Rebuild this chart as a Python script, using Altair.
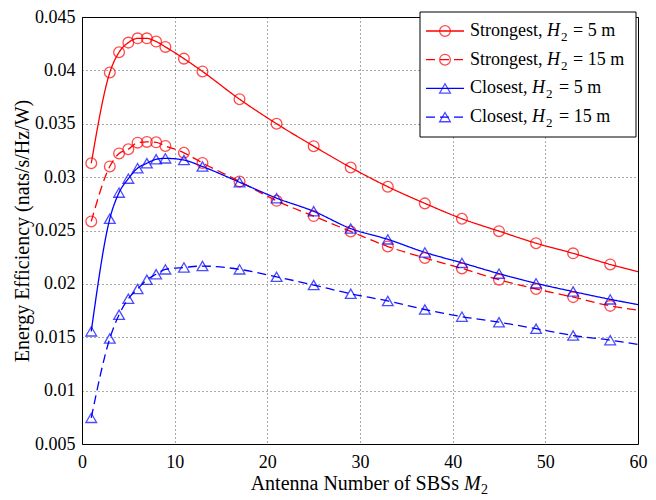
import altair as alt
import pandas as pd

# ---- data ----
M2 = [1, 3, 4, 5, 6, 7, 8, 9, 11, 13, 17, 21, 25, 29, 33, 37, 41, 45, 49, 53, 57, 60]
HAS_MARKER = [True] * 21 + [False]

strongest_5 = [0.0313, 0.0398, 0.0417, 0.0426, 0.0430, 0.0430, 0.0427, 0.0422, 0.0411, 0.0399,
               0.0373, 0.0350, 0.0329, 0.0309, 0.0291, 0.02754, 0.0261, 0.02494, 0.02381,
               0.02286, 0.02182, 0.02115]
strongest_15 = [0.02585, 0.0310, 0.03222, 0.03261, 0.03323, 0.0333, 0.03326, 0.03292, 0.03228,
                0.03133, 0.0296, 0.02778, 0.02635, 0.02491, 0.0235, 0.02243, 0.02145, 0.02039,
                0.01952, 0.01876, 0.01794, 0.01754]
closest_5 = [0.01555, 0.0261, 0.02855, 0.02986, 0.03084, 0.0313, 0.03167, 0.03176, 0.0316,
             0.03099, 0.02952, 0.02803, 0.0268, 0.02518, 0.02417, 0.02295, 0.02197, 0.02096,
             0.02005, 0.01928, 0.01855, 0.01806]
closest_15 = [0.00745, 0.01488, 0.01711, 0.01861, 0.01952, 0.02039, 0.0209, 0.02136, 0.02154,
              0.02167, 0.02136, 0.02066, 0.01989, 0.01907, 0.0184, 0.0176, 0.01693, 0.01641,
              0.0158, 0.01516, 0.01473, 0.01433]

SERIES = ["Strongest, H2 = 5 m", "Strongest, H2 = 15 m", "Closest, H2 = 5 m", "Closest, H2 = 15 m"]
SCHEME = ["Strongest", "Strongest", "Closest", "Closest"]
HEIGHTS = ["= 5 m", "= 15 m", "= 5 m", "= 15 m"]
COLORS = ["#ff0000", "#ff0000", "#0000ff", "#0000ff"]
DASHES = [[1, 0], [9, 5], [1, 0], [9, 5]]
SHAPES = ["circle", "circle", "triangle-up", "triangle-up"]
SIZES = [115, 115, 150, 150]

X_TICKS = [0, 10, 20, 30, 40, 50, 60]
Y_TICKS = [0.005, 0.01, 0.015, 0.02, 0.025, 0.03, 0.035, 0.04, 0.045]
X_TITLE = "Antenna Number of SBSs"
Y_TITLE = "Energy Efficiency (nats/s/Hz/W)"

FONT = "Liberation Serif"

rows = []
for name, vals in zip(SERIES, [strongest_5, strongest_15, closest_5, closest_15]):
    for m, v, mk in zip(M2, vals, HAS_MARKER):
        rows.append({"m": m, "ee": v, "series": name, "mark": mk})
df = pd.DataFrame(rows)

color = alt.Color("series:N", scale=alt.Scale(domain=SERIES, range=COLORS), legend=None)
dash = alt.StrokeDash("series:N", scale=alt.Scale(domain=SERIES, range=DASHES), legend=None)
shape = alt.Shape("series:N", scale=alt.Scale(domain=SERIES, range=SHAPES), legend=None)
size = alt.Size("series:N", scale=alt.Scale(domain=SERIES, range=SIZES), legend=None)

x = alt.X("m:Q", scale=alt.Scale(domain=[0, 60], nice=False, zero=False, padding=0),
          axis=alt.Axis(values=X_TICKS, title=None, format="d", labelFlush=False))
y = alt.Y("ee:Q", scale=alt.Scale(domain=[0.005, 0.045], nice=False, zero=False, padding=0),
          axis=alt.Axis(values=Y_TICKS, title=Y_TITLE, format="~g", titlePadding=2,
                        titleFontSize=20, labelFlush=False))

base = alt.Chart(df)
lines = base.mark_line(strokeWidth=1.3, interpolate="monotone").encode(
    x=x, y=y, color=color, strokeDash=dash, detail="series:N")
points = base.transform_filter("datum.mark").mark_point(filled=False, strokeWidth=1.3).encode(
    x="m:Q", y="ee:Q", color=color, shape=shape, size=size)

# ---- legend (custom, to allow italic H with subscript) ----
leg = pd.DataFrame({"series": SERIES, "scheme": SCHEME, "height": HEIGHTS,
                    "row": list(range(len(SERIES)))})
legbase = alt.Chart(leg).transform_calculate(
    ly="14 + datum.row * 28.7",
    hx="datum.scheme == 'Strongest' ? 465 : 450",
    sx="datum.scheme == 'Strongest' ? 479 : 464",
    ex="datum.scheme == 'Strongest' ? 491 : 477",
)
legbox = alt.Chart(pd.DataFrame({"a": [0]})).mark_rect(
    fill="white", stroke="black", strokeWidth=1).encode(
    x=alt.value(338), x2=alt.value(554), y=alt.value(-5), y2=alt.value(120))
legline = legbase.mark_rule(strokeWidth=1.3).encode(
    x=alt.value(344), x2=alt.value(382), y=alt.Y("ly:Q", scale=None),
    color=color, strokeDash=dash)
legpt = legbase.mark_point(filled=False, strokeWidth=1.3).encode(
    x=alt.value(363), y=alt.Y("ly:Q", scale=None), color=color, shape=shape, size=size)
txt_kw = dict(font=FONT, fontSize=18, align="left", baseline="middle", color="black")
legt1 = legbase.mark_text(**txt_kw).encode(
    x=alt.value(388), y=alt.Y("ly:Q", scale=None), text=alt.Text("label1:N")
).transform_calculate(label1="datum.scheme + ','")
legH = legbase.mark_text(fontStyle="italic", **txt_kw).encode(
    x=alt.X("hx:Q", scale=None), y=alt.Y("ly:Q", scale=None), text=alt.value("H"))
legSub = legbase.mark_text(font=FONT, fontSize=13, align="left", baseline="middle",
                           color="black", dy=6).encode(
    x=alt.X("sx:Q", scale=None), y=alt.Y("ly:Q", scale=None), text=alt.value("2"))
legEq = legbase.mark_text(**txt_kw).encode(
    x=alt.X("ex:Q", scale=None), y=alt.Y("ly:Q", scale=None), text=alt.Text("height:N"))

# ---- x-axis title with italic M and subscript 2 ----
xt = alt.Chart(pd.DataFrame({"t": [X_TITLE]}))
xt_main = xt.mark_text(font=FONT, fontSize=20, align="right", baseline="alphabetic",
                       color="black").encode(x=alt.value(377), y=alt.value(473), text="t:N")
xt_M = xt.mark_text(font=FONT, fontSize=20, fontStyle="italic", align="left",
                    baseline="alphabetic", color="black").encode(
    x=alt.value(382), y=alt.value(473), text=alt.value("M"))
xt_2 = xt.mark_text(font=FONT, fontSize=14, align="left", baseline="alphabetic",
                    color="black").encode(x=alt.value(399), y=alt.value(477), text=alt.value("2"))

chart = alt.layer(
    lines, points, legbox, legline, legpt, legt1, legH, legSub, legEq, xt_main, xt_M, xt_2
).properties(
    width=556, height=427,
    autosize=alt.AutoSizeParams(type="none"),
    padding={"left": 74, "top": 9, "right": 10, "bottom": 54},
).configure_view(
    stroke="black", strokeWidth=1
).configure_axis(
    labelFont=FONT, titleFont=FONT, labelFontSize=18, labelColor="black",
    titleColor="black", titleFontWeight="normal",
    grid=True, gridColor="black", gridDash=[1, 3], gridOpacity=0.85, gridWidth=0.8,
    domain=False, ticks=False, labelPadding=9,
).configure_axisY(labelPadding=7)

chart.save("out.html", embed_options={"renderer": "svg", "actions": False})
